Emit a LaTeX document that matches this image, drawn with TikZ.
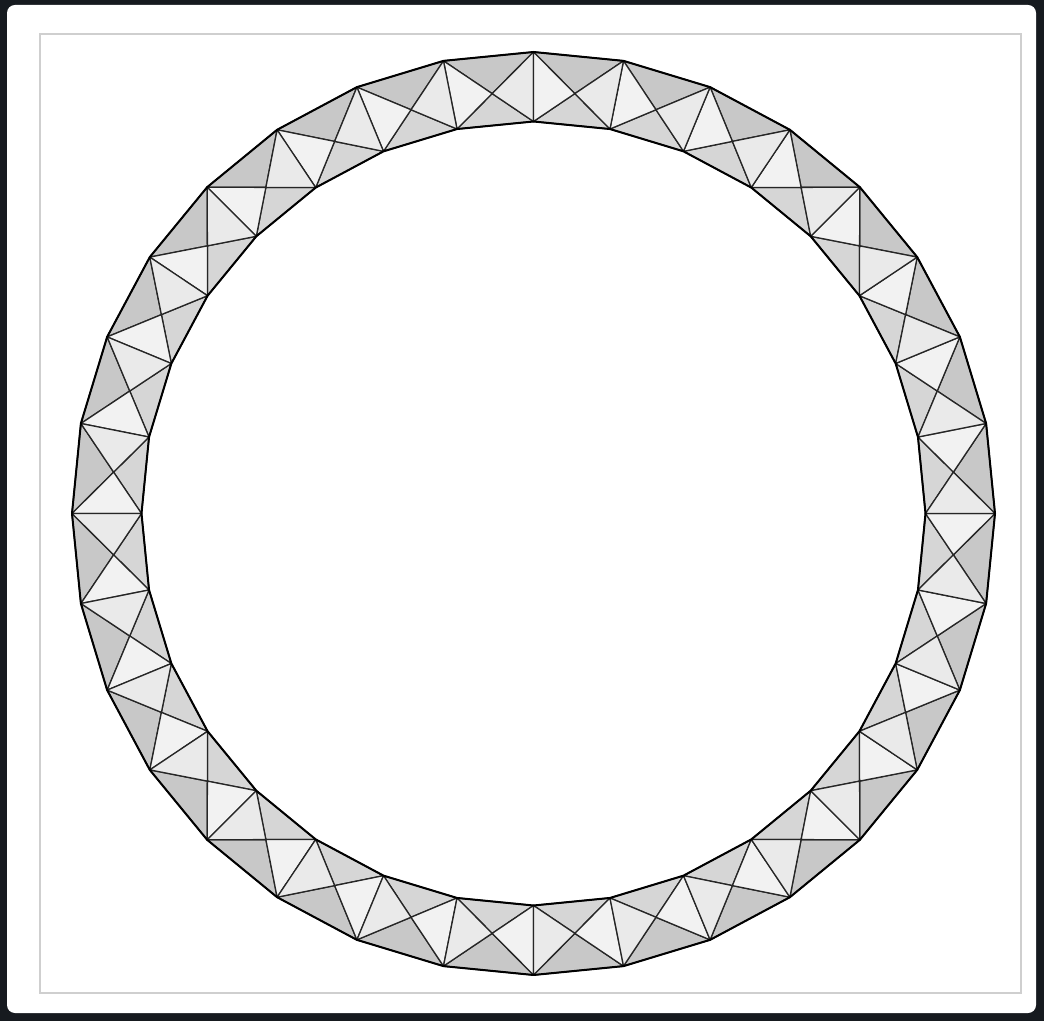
\documentclass[tikz,border=0pt]{standalone}
\usepackage{tikz}
\usepackage{xcolor}

\definecolor{outerTri}{HTML}{C8C8C8}
\definecolor{innerTri}{HTML}{D6D6D6}
\definecolor{sideCCW}{HTML}{F2F2F2}
\definecolor{sideCW}{HTML}{EAEAEA}
\definecolor{frameDark}{HTML}{161A1F}
\definecolor{panelLine}{HTML}{CFCFCF}

\begin{document}
\begin{tikzpicture}[x=1pt, y=1pt,
  tri/.style={draw=black!85, line width=1.3pt, line join=round},
  rim/.style={draw=black, line width=2pt, line join=round}
]
\useasboundingbox (0,0) rectangle (1044,1021);
% window frame and panel
\fill[frameDark] (0,0) rectangle (1044,1021);
\fill[white, rounded corners=8pt] (7,8) rectangle (1036,1016);
\draw[panelLine, line width=1.2pt] (40,28) rectangle (1021,987);

% ring of 32 cells, each split by its diagonals
\begin{scope}[shift={(533.5,507.5)}]
\foreach \k in {0,...,31} {
  \pgfmathsetmacro{\a}{90+11.25*\k}
  \pgfmathsetmacro{\b}{\a+11.25}
  \coordinate (oa) at (\a:461.5);
  \coordinate (ob) at (\b:461.5);
  \coordinate (ia) at (\a:392);
  \coordinate (ib) at (\b:392);
  \coordinate (mid) at (intersection of oa--ib and ob--ia);
  \filldraw[tri, fill=outerTri] (oa) -- (ob) -- (mid) -- cycle;
  \filldraw[tri, fill=innerTri] (ia) -- (ib) -- (mid) -- cycle;
  \filldraw[tri, fill=sideCW] (oa) -- (ia) -- (mid) -- cycle;
  \filldraw[tri, fill=sideCCW] (ob) -- (ib) -- (mid) -- cycle;
}
\draw[rim] plot[samples at={0,...,31}] ({90+11.25*\x}:461.5) -- cycle;
\draw[rim] plot[samples at={0,...,31}] ({90+11.25*\x}:392) -- cycle;
\end{scope}
\end{tikzpicture}
\end{document}
